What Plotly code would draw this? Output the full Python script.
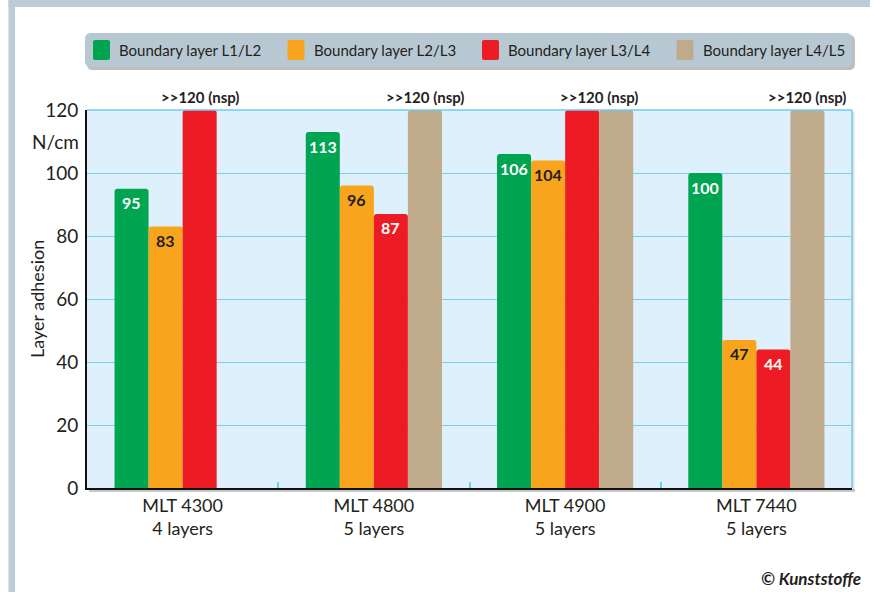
import plotly.graph_objects as go

# ---------------- data ----------------
categories = ["MLT 4300<br>4 layers", "MLT 4800<br>5 layers",
              "MLT 4900<br>5 layers", "MLT 7440<br>5 layers"]
series_names = ["Boundary layer L1/L2", "Boundary layer L2/L3",
                "Boundary layer L3/L4", "Boundary layer L4/L5"]
l1_l2 = [95, 113, 106, 100]
l2_l3 = [83, 96, 104, 47]
l3_l4 = [120, 87, 120, 44]      # 120 = >>120 (no separation possible)
l4_l5 = [None, 120, 120, 120]   # MLT 4300 has only 4 layers
series_values = [l1_l2, l2_l3, l3_l4, l4_l5]
nsp_cap = 120
nsp_text = ">>120 (nsp)"
y_ticks = [0, 20, 40, 60, 80, 100, 120]
y_unit = "N/cm"
y_title = "Layer adhesion"
credit = "© Kunststoffe"

colors = ["#00a551", "#f8a51d", "#ed1c24", "#bfab8b"]
label_colors = ["#ffffff", "#231f20", "#ffffff", "#231f20"]

W, H = 874, 592
ML, MR, MT, MB = 87, 22, 110, 104
PW, PH = W - ML - MR, H - MT - MB
FONT = "Lato"
TXT = "#231f20"


def px(x):
    return (x - ML) / PW


def py(y):
    return (H - MB - y) / PH


bargap = 0.288
n = len(series_values)
bw = (1 - bargap) / n
offsets = [-(1 - bargap) / 2 + bw * (i + 0.5) for i in range(n)]

fig = go.Figure()
annotations = []
for i, (name, vals) in enumerate(zip(series_names, series_values)):
    fig.add_trace(go.Bar(
        x=categories, y=vals, name=name,
        marker=dict(color=colors[i], line=dict(width=0), cornerradius=3),
        showlegend=False, hoverinfo="skip",
    ))
    # value labels at the top inside each bar
    for c, v in enumerate(vals):
        if v is None or v >= nsp_cap:
            continue
        annotations.append(dict(
            x=c + offsets[i], y=v, xref="x", yref="y", text="<b>%d</b>" % v,
            showarrow=False, xanchor="center", yanchor="middle", yshift=-14,
            font=dict(family=FONT, size=16, color=label_colors[i])))

# >>120 labels centred over the capped bars of each group
for c in range(len(categories)):
    offs = [offsets[i] for i in range(n)
            if series_values[i][c] is not None and series_values[i][c] >= nsp_cap]
    if offs:
        annotations.append(dict(
            x=c + sum(offs) / len(offs), y=py(97), xref="x", yref="paper",
            text="<b>" + nsp_text + "</b>", showarrow=False,
            font=dict(family=FONT, size=15, color=TXT), xanchor="center", yanchor="middle"))

annotations.append(dict(x=px(81), y=110, xref="paper", yref="y", text=y_unit,
                        showarrow=False, xanchor="right", yanchor="middle",
                        font=dict(family=FONT, size=19, color=TXT)))
annotations.append(dict(x=px(37), y=0.5, xref="paper", yref="paper", text=y_title,
                        textangle=-90, showarrow=False, xanchor="center", yanchor="middle",
                        font=dict(family=FONT, size=18, color=TXT)))
annotations.append(dict(x=px(863), y=py(578), xref="paper", yref="paper",
                        text="<b><i>" + credit + "</i></b>", showarrow=False,
                        xanchor="right", yanchor="middle",
                        font=dict(family=FONT, size=17, color=TXT)))

shapes = []
frame_col = "#bccbd6"
# outer frame bands
shapes.append(dict(type="rect", xref="paper", yref="paper", x0=px(8.5), x1=px(15),
                   y0=py(600), y1=py(0), fillcolor=frame_col, line=dict(width=0), layer="above"))
shapes.append(dict(type="rect", xref="paper", yref="paper", x0=px(8.5), x1=px(870),
                   y0=py(7), y1=py(-2), fillcolor=frame_col, line=dict(width=0), layer="above"))


def rrect(x0, y0, x1, y1, r):
    X = lambda v: f"{px(v):.5f}"
    Y = lambda v: f"{py(v):.5f}"
    return (f"M{X(x0 + r)},{Y(y0)} L{X(x1 - r)},{Y(y0)} Q{X(x1)},{Y(y0)} {X(x1)},{Y(y0 + r)} "
            f"L{X(x1)},{Y(y1 - r)} Q{X(x1)},{Y(y1)} {X(x1 - r)},{Y(y1)} "
            f"L{X(x0 + r)},{Y(y1)} Q{X(x0)},{Y(y1)} {X(x0)},{Y(y1 - r)} "
            f"L{X(x0)},{Y(y0 + r)} Q{X(x0)},{Y(y0)} {X(x0 + r)},{Y(y0)} Z")


# legend box with shadow
shapes.append(dict(type="path", xref="paper", yref="paper", path=rrect(87, 35, 855, 70, 6),
                   fillcolor="rgba(60,70,80,0.35)", line=dict(width=0), layer="above"))
shapes.append(dict(type="path", xref="paper", yref="paper", path=rrect(85, 33, 852, 67, 6),
                   fillcolor="#b8c8d3", line=dict(width=0), layer="above"))
for i, name in enumerate(series_names):
    x0 = 93 + i * 194.5
    shapes.append(dict(type="path", xref="paper", yref="paper",
                       path=rrect(x0, 40, x0 + 17, 60, 2),
                       fillcolor=colors[i], line=dict(width=0), layer="above"))
    annotations.append(dict(x=px(x0 + 24), y=py(50), xref="paper", yref="paper",
                            text=name, showarrow=False, xanchor="left", yanchor="middle",
                            font=dict(family=FONT, size=15, color=TXT)))

# axis shadow
shapes.append(dict(type="line", xref="paper", yref="paper", x0=px(89), x1=px(855),
                   y0=py(490.5), y1=py(490.5), line=dict(color="rgba(0,0,0,0.22)", width=3),
                   layer="below"))
shapes.append(dict(type="line", xref="paper", yref="paper", x0=px(853.5), x1=px(853.5),
                   y0=py(112), y1=py(490), line=dict(color="rgba(0,0,0,0.12)", width=2),
                   layer="below"))
# light blue top/right border
shapes.append(dict(type="line", xref="paper", yref="paper", x0=0, x1=1, y0=1, y1=1,
                   line=dict(color="#6ccdf3", width=1.5), layer="above"))
shapes.append(dict(type="line", xref="paper", yref="paper", x0=1, x1=1, y0=0, y1=1,
                   line=dict(color="#6ccdf3", width=1.5), layer="above"))

fig.update_layout(
    width=W, height=H,
    margin=dict(l=ML, r=MR, t=MT, b=MB, pad=0),
    paper_bgcolor="white", plot_bgcolor="#ddf0fb",
    barmode="group", bargap=bargap, bargroupgap=0,
    font=dict(family=FONT, color=TXT),
    annotations=annotations, shapes=shapes,
    xaxis=dict(type="category", categoryorder="array", categoryarray=categories,
               tickson="boundaries", ticks="inside", ticklen=6, tickcolor="#6ccdf3",
               tickwidth=1.5, showgrid=False, showline=True, linecolor="#111111",
               linewidth=2, tickfont=dict(family=FONT, size=18, color=TXT),
               fixedrange=True),
    yaxis=dict(range=[0, 120], tickvals=y_ticks, showgrid=True, gridcolor="#78cff1",
               gridwidth=1, zeroline=False, showline=True, linecolor="#111111", linewidth=2,
               ticks="", ticklabelstandoff=3, tickfont=dict(family=FONT, size=19, color=TXT),
               fixedrange=True),
)

fig.write_html("out.html")
